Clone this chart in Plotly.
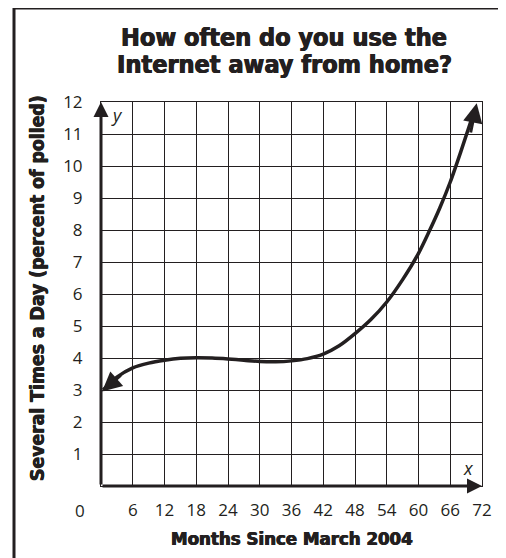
import plotly.graph_objects as go

# ---- data ----
months = [0.4, 3, 6, 9, 12, 15, 18, 21, 24, 27, 30, 33, 36, 39, 42, 45, 48, 51, 54, 57, 60, 62, 64, 66, 68, 70.6]
percent = [3.0, 3.4, 3.69, 3.84, 3.93, 3.99, 4.01, 4.0, 3.97, 3.93, 3.89, 3.88, 3.91, 3.98, 4.12, 4.38, 4.76, 5.2, 5.75, 6.45, 7.27, 7.95, 8.68, 9.5, 10.45, 11.75]
x_ticks = [6, 12, 18, 24, 30, 36, 42, 48, 54, 60, 66, 72]
y_ticks = [1, 2, 3, 4, 5, 6, 7, 8, 9, 10, 11, 12]
x_range = [0, 72]
y_range = [0, 12]
start_arrow = dict(tip=(0.2, 2.95), tail=(4.0, 3.5))
end_arrow = dict(tip=(71.0, 11.96), tail=(69.8, 11.0))

title_lines = ["How often do you use the", "Internet away from home?"]
x_title = "Months Since March 2004"
y_title = "Several Times a Day (percent of polled)"

INK = "#231f20"
BOLD = "Liberation Sans Narrow, DejaVu Sans Condensed, Arial Narrow, sans-serif"
REG = "Open Sans, Noto Sans, sans-serif"
HEAVY = "0.6px 0 0 #231f20, -0.4px 0 0 #231f20"

# page body has an 8px margin; figure is sized/positioned to compensate
W, H = 498, 550
ML, MT, MR, MB = 93, 94, 24, 72
PW, PH = W - ML - MR, H - MT - MB


def px_x(px):  # figure pixel -> paper x
    return (px - ML) / PW


def px_y(py):  # figure pixel -> paper y
    return (H - MB - py) / PH


fig = go.Figure()
fig.add_trace(go.Scatter(
    x=months, y=percent, mode="lines",
    line=dict(color=INK, width=3.5, shape="spline", smoothing=0.8),
    cliponaxis=False, hoverinfo="skip", showlegend=False))

annotations = []
for a in (start_arrow, end_arrow):
    annotations.append(dict(
        x=a["tip"][0], y=a["tip"][1], ax=a["tail"][0], ay=a["tail"][1],
        xref="x", yref="y", axref="x", ayref="y", text="",
        showarrow=True, arrowhead=2, arrowsize=1.3, arrowwidth=3, arrowcolor=INK))
annotations.append(dict(x=0, y=12, ax=0, ay=0, xref="x", yref="y", axref="x", ayref="y",
                        text="", showarrow=True, arrowhead=2, arrowsize=1, arrowwidth=3, arrowcolor=INK))
annotations.append(dict(x=72, y=0, ax=0, ay=0, xref="x", yref="y", axref="x", ayref="y",
                        text="", showarrow=True, arrowhead=2, arrowsize=1, arrowwidth=3, arrowcolor=INK))
annotations.append(dict(x=3.0, y=11.6, xref="x", yref="y", text="<i>y</i>", showarrow=False,
                        font=dict(family=REG, size=18, color=INK)))
annotations.append(dict(x=69.4, y=0.56, xref="x", yref="y", text="<i>x</i>", showarrow=False,
                        font=dict(family=REG, size=18, color=INK)))
annotations.append(dict(x=0, y=0, xref="x", yref="y", text="0", showarrow=False,
                        xshift=-21, yshift=-24, font=dict(family=REG, size=17, color=INK)))
# title (two lines)
for line, cy in zip(title_lines, (29, 57)):
    annotations.append(dict(x=px_x(276), y=px_y(cy), xref="paper", yref="paper",
                            text=f"<b>{line}</b>", showarrow=False, xanchor="center", yanchor="middle",
                            font=dict(family=BOLD, size=25, color=INK, shadow=HEAVY)))
# axis titles
annotations.append(dict(x=0.5, y=0, xref="paper", yref="paper", text=f"<b>{x_title}</b>",
                        showarrow=False, yshift=-52, yanchor="middle",
                        font=dict(family=BOLD, size=18.5, color=INK, shadow=HEAVY)))
annotations.append(dict(x=0, y=0.5, xref="paper", yref="paper", text=f"<b>{y_title}</b>",
                        showarrow=False, xshift=-64, yshift=6, xanchor="center", textangle=-90,
                        font=dict(family=BOLD, size=19.2, color=INK, shadow=HEAVY)))

frame = dict(color=INK, width=3)
shapes = [
    dict(type="line", xref="paper", yref="paper", x0=px_x(6), x1=px_x(6), y0=px_y(0), y1=px_y(560), line=frame),
    dict(type="line", xref="paper", yref="paper", x0=px_x(6), x1=px_x(494), y0=px_y(0), y1=px_y(0), line=frame),
    dict(type="line", xref="paper", yref="paper", x0=px_x(494), x1=px_x(494), y0=px_y(0), y1=px_y(560),
         line=dict(color="#c8c8c8", width=1)),
]

fig.update_layout(
    width=W, height=H,
    margin=dict(l=ML, r=MR, t=MT, b=MB),
    paper_bgcolor="white", plot_bgcolor="white",
    xaxis=dict(range=x_range, tickvals=x_ticks, ticktext=[str(v) for v in x_ticks],
               showgrid=True, gridcolor=INK, gridwidth=1, zeroline=False,
               showline=True, mirror=True, linecolor=INK, linewidth=1,
               ticks="", ticklabelstandoff=9, tickfont=dict(family=REG, size=17, color=INK),
               fixedrange=True),
    yaxis=dict(range=y_range, tickvals=y_ticks, ticktext=[str(v) for v in y_ticks],
               showgrid=True, gridcolor=INK, gridwidth=1, zeroline=False,
               showline=True, mirror=True, linecolor=INK, linewidth=1,
               ticks="", ticklabelstandoff=14, tickfont=dict(family=REG, size=17, color=INK),
               fixedrange=True),
    annotations=annotations,
    shapes=shapes,
    showlegend=False,
)

fig.write_html("out.html")
